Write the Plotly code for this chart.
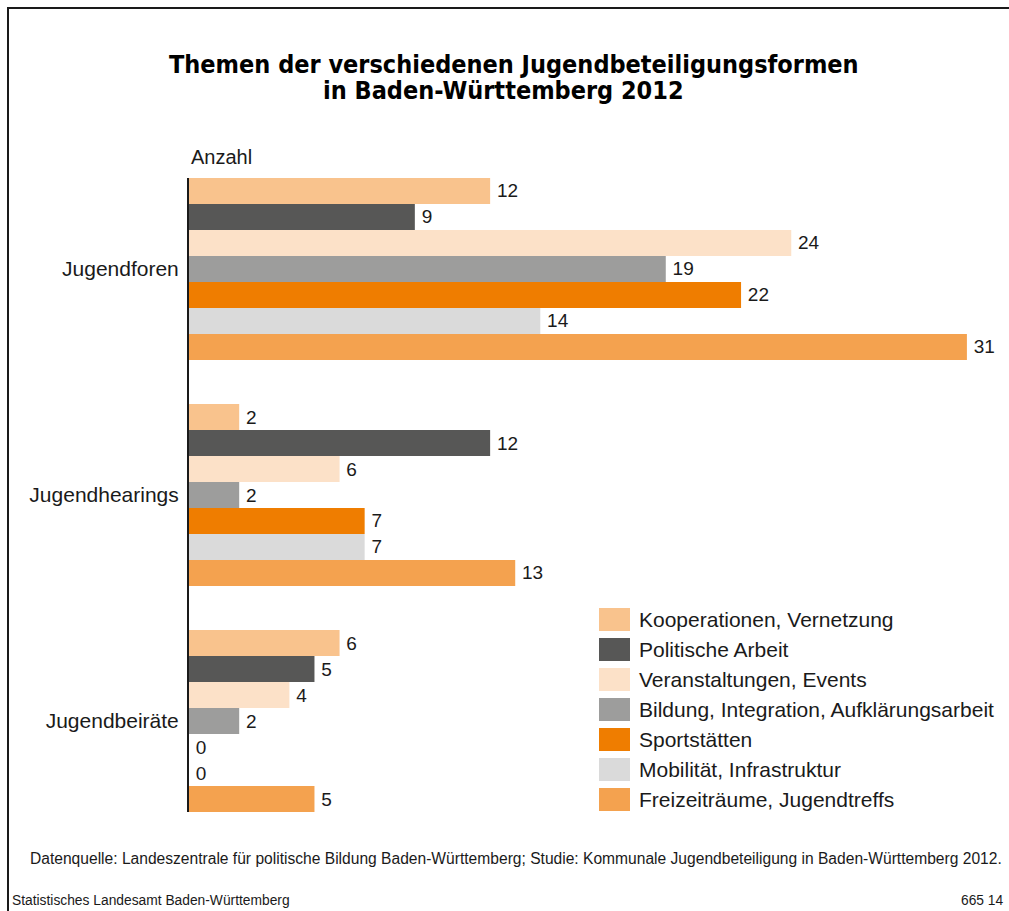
import plotly.graph_objects as go

# ---------------- data ----------------
categories = ["Jugendforen", "Jugendhearings", "Jugendbeiräte"]
series_names = [
    "Kooperationen, Vernetzung",
    "Politische Arbeit",
    "Veranstaltungen, Events",
    "Bildung, Integration, Aufklärungsarbeit",
    "Sportstätten",
    "Mobilität, Infrastruktur",
    "Freizeiträume, Jugendtreffs",
]
kooperationen = [12, 2, 6]
politische_arbeit = [9, 12, 5]
veranstaltungen = [24, 6, 4]
bildung = [19, 2, 2]
sportstaetten = [22, 7, 0]
mobilitaet = [14, 7, 0]
freizeitraeume = [31, 13, 5]
series_values = [kooperationen, politische_arbeit, veranstaltungen, bildung,
                 sportstaetten, mobilitaet, freizeitraeume]

title_lines = ["Themen der verschiedenen Jugendbeteiligungsformen",
               "in Baden-Württemberg 2012"]
unit_label = "Anzahl"
source_text = ("Datenquelle: Landeszentrale für politische Bildung Baden-Württemberg; "
               "Studie: Kommunale Jugendbeteiligung in Baden-Württemberg 2012.")
footer_left = "Statistisches Landesamt Baden-Württemberg"
footer_right = "665 14"

# ---------------- styles ----------------
colors = ["#F9C38D", "#575756", "#FCE1C8", "#9D9D9C", "#EF7D00", "#DADADA", "#F4A24F"]
FONT = "Liberation Sans"
TITLE_FONT = "DejaVu Sans Condensed"
TXT = "#1a1a1a"

W, H = 1009, 911
ML, MR, MT, MB = 189, 17, 178, 99
PW = W - ML - MR
PH = H - MT - MB


def px(x):
    return (x - ML) / PW


def py(y):
    return (H - MB - y) / PH


BARGAP = 0.195
g = BARGAP / 2

fig = go.Figure()
for name, vals, col in zip(series_names, series_values, colors):
    fig.add_trace(go.Bar(
        y=categories, x=vals, name=name, orientation="h",
        marker=dict(color=col, line=dict(width=0)),
        text=["\u2009" + str(v) for v in vals], textposition="outside",
        textfont=dict(family=FONT, size=19, color=TXT),
        constraintext="none", cliponaxis=False, showlegend=False,
        hoverinfo="x+name",
    ))

fig.update_layout(
    width=W, height=H,
    margin=dict(l=ML, r=MR, t=MT, b=MB, pad=0),
    paper_bgcolor="white", plot_bgcolor="white",
    barmode="group", bargap=BARGAP, bargroupgap=0,
    font=dict(family=FONT, color=TXT, size=20),
    xaxis=dict(range=[0, 32], visible=False, fixedrange=True),
    yaxis=dict(type="category", categoryorder="array", categoryarray=categories,
               range=[2.5 - g, -0.5 + g], showline=True, linecolor="#1a1a1a",
               linewidth=2, showgrid=False, zeroline=False,
               ticks="outside", ticklen=4, tickcolor="rgba(0,0,0,0)",
               tickfont=dict(family=FONT, size=21, color=TXT)),
)

ann = []
# title
ann.append(dict(text="<b>" + title_lines[0] + "</b>", x=px(514), y=py(64),
                xref="paper", yref="paper", xanchor="center", yanchor="middle",
                showarrow=False, font=dict(family=TITLE_FONT, size=25, color="#000")))
ann.append(dict(text="<b>" + title_lines[1] + "</b>", x=px(503), y=py(91),
                xref="paper", yref="paper", xanchor="center", yanchor="middle",
                showarrow=False, font=dict(family=TITLE_FONT, size=25, color="#000")))
# unit
ann.append(dict(text=unit_label, x=px(189), y=py(157), xref="paper", yref="paper",
                xanchor="left", yanchor="middle", showarrow=False,
                font=dict(family=FONT, size=20, color=TXT)))
# footers
ann.append(dict(text=source_text, x=px(516), y=py(858), xref="paper", yref="paper",
                xanchor="center", yanchor="middle", showarrow=False,
                font=dict(family=FONT, size=15.6, color=TXT)))
ann.append(dict(text=footer_left, x=px(10), y=py(900), xref="paper", yref="paper",
                xanchor="left", yanchor="middle", showarrow=False,
                font=dict(family=FONT, size=13.8, color=TXT)))
ann.append(dict(text=footer_right, x=px(1006), y=py(900), xref="paper", yref="paper",
                xanchor="right", yanchor="middle", showarrow=False,
                font=dict(family=FONT, size=13.8, color=TXT)))

shapes = []
# custom legend
for i, (name, col) in enumerate(zip(series_names, colors)):
    top = 608 + 30 * i
    shapes.append(dict(type="rect", xref="paper", yref="paper",
                       x0=px(599), x1=px(630), y0=py(top), y1=py(top + 23),
                       fillcolor=col, line=dict(width=0), layer="above"))
    ann.append(dict(text=name, x=px(637), y=py(top + 11.5), xref="paper", yref="paper",
                    xanchor="left", yanchor="middle", showarrow=False,
                    font=dict(family=FONT, size=21, color=TXT)))

# frame
shapes.append(dict(type="line", xref="paper", yref="paper", x0=px(8), x1=px(8),
                   y0=py(8), y1=py(H + 5), line=dict(color="#1a1a1a", width=2)))
shapes.append(dict(type="line", xref="paper", yref="paper", x0=px(7), x1=px(W + 5),
                   y0=py(8), y1=py(8), line=dict(color="#1a1a1a", width=2)))

fig.update_layout(annotations=ann, shapes=shapes)
fig.write_html("out.html", config={"displayModeBar": False},
               post_script="document.body.style.margin='0';document.body.style.overflow='hidden';")
